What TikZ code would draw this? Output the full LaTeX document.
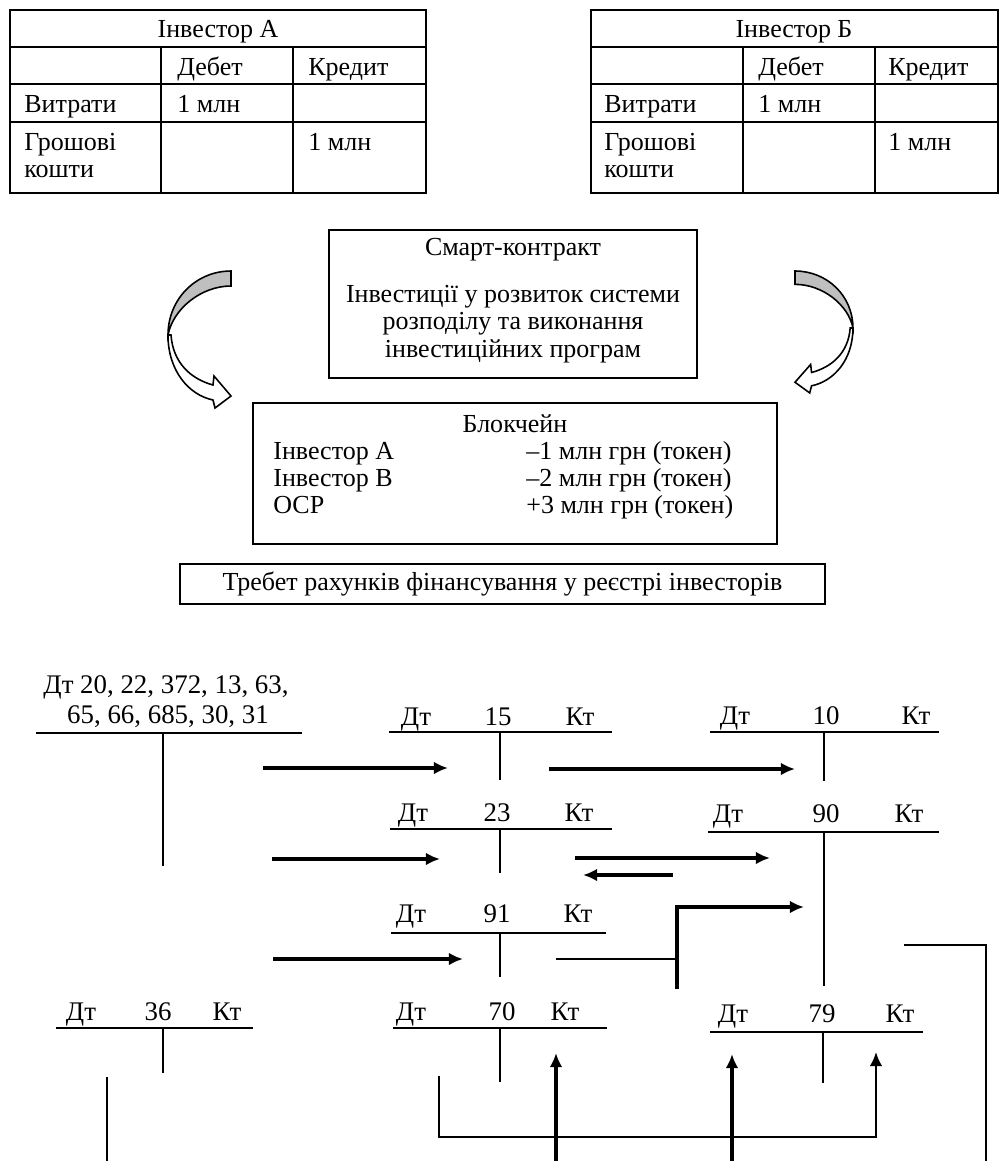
\documentclass[tikz,border=0pt]{standalone}
\usepackage{fontspec}
\setmainfont{Liberation Serif}
\usetikzlibrary{arrows.meta, positioning, calc}

\tikzset{
    curvearrow/.pic={
        \filldraw[fill=gray!50, line width=0.9pt] (0,0) .. controls (-35,0) and (-63,28) .. (-63,64)
            .. controls (-58,38) and (-30,15) .. (0,15) -- cycle;
        \filldraw[fill=white, line width=0.9pt] (-63,64) .. controls (-63,100) and (-42,124) .. (-18,129)
            -- (-16,137) -- (0,125) -- (-17,105) -- (-18,114)
            .. controls (-40,108) and (-58,92) .. (-60,64) -- cycle;
    }
}

\begin{document}
\begin{tikzpicture}[
    x=0.02cm, y=-0.02cm,
    >={Latex[length=8pt, width=7.2pt]},
    txt/.style={inner sep=0pt, font=\fontsize{14.8}{15.6}\selectfont},
    cell/.style={txt, anchor=base west},
    cellhead/.style={txt, anchor=base},
    grid/.style={line width=0.85pt},
    box/.style={draw, line width=1.2pt, inner sep=0pt},
    tlabel/.style={anchor=base, inner sep=0pt, font=\fontsize{15.3}{18}\selectfont},
    tline/.style={line width=1.6pt},
    tstem/.style={line width=1.2pt},
    flow/.style={->, line width=1.8pt},
    link/.style={line width=1.3pt}
]
\useasboundingbox (0,0) rectangle (999,1161);
% investor A
\draw[grid] (10,10) rectangle (426,193);
\draw[grid] (10,47) -- (426,47) (10,84) -- (426,84) (10,122) -- (426,122);
\draw[grid] (161,47) -- (161,193) (293,47) -- (293,193);
\node[cellhead] (TabAHead) at (218,37) {Інвестор А};
\node[cell] (TabADeb) at (177,75) {Дебет};
\node[cell] (TabACred) at (308,75) {Кредит};
\node[cell] (TabARow1) at (24,112) {Витрати};
\node[cell] (TabAVal1) at (177,112) {1 млн};
\node[cell] (TabARow2) at (24,150) {Грошові};
\node[cell] (TabARow2b) at (24,177) {кошти};
\node[cell] (TabAVal2) at (308,150) {1 млн};
% investor B
\draw[grid] (591,10) rectangle (998,193);
\draw[grid] (591,47) -- (998,47) (591,84) -- (998,84) (591,122) -- (998,122);
\draw[grid] (743,47) -- (743,193) (875,47) -- (875,193);
\node[cellhead] (TabBHead) at (794,37) {Інвестор Б};
\node[cell] (TabBDeb) at (758,75) {Дебет};
\node[cell] (TabBCred) at (888,75) {Кредит};
\node[cell] (TabBRow1) at (604,112) {Витрати};
\node[cell] (TabBVal1) at (758,112) {1 млн};
\node[cell] (TabBRow2) at (604,150) {Грошові};
\node[cell] (TabBRow2b) at (604,177) {кошти};
\node[cell] (TabBVal2) at (888,150) {1 млн};
% smart contract and blockchain
\node[box, minimum width=7.36cm, minimum height=2.96cm] (Smart) at (513,304) {};
\node[txt, align=center, anchor=north] (SmartTxt) at (513,238) {Смарт-контракт\\[11pt]Інвестиції у розвиток системи\\розподілу та виконання\\інвестиційних програм};
\node[box, minimum width=10.48cm, minimum height=2.82cm] (Chain) at (515,473.5) {};
\node[cellhead] (ChainHead) at (515,432) {Блокчейн};
\node[cell] (ChainA) at (273,459) {Інвестор А};
\node[cell] (ChainAVal) at (526,459) {–1 млн грн (токен)};
\node[cell] (ChainB) at (273,486) {Інвестор В};
\node[cell] (ChainBVal) at (526,486) {–2 млн грн (токен)};
\node[cell] (ChainC) at (273,513) {ОСР};
\node[cell] (ChainCVal) at (526,513) {+3 млн грн (токен)};
\node[box, line width=0.9pt, minimum width=12.9cm, minimum height=0.8cm, font=\fontsize{14.8}{15.6}\selectfont] (Req) at (502.5,584) {Требет рахунків фінансування у реєстрі інвесторів};
\pic (LeftArc) at (231,271) {curvearrow};
\pic[xscale=-0.92, yscale=0.89] (RightArc) at (795,271) {curvearrow};
% T-accounts
\node[tlabel] (Big1) at (166,693) {Дт 20, 22, 372, 13, 63,};
\node[tlabel] (Big2) at (168,723) {65, 66, 685, 30, 31};
\draw[tline] (36,733) -- (302,733);
\draw[tstem] (163,733) -- (163,866);
\node[tlabel] (D15) at (416,725) {Дт};
\node[tlabel] (N15) at (498,725) {15};
\node[tlabel] (K15) at (580,725) {Кт};
\draw[tline] (389,732) -- (612,732);
\draw[tstem] (500,732) -- (500,780);
\node[tlabel] (D10) at (735,724) {Дт};
\node[tlabel] (N10) at (826,724) {10};
\node[tlabel] (K10) at (916,724) {Кт};
\draw[tline] (710,732) -- (939,732);
\draw[tstem] (824,732) -- (824,781);
\node[tlabel] (D23) at (413,821) {Дт};
\node[tlabel] (N23) at (497,821) {23};
\node[tlabel] (K23) at (579,821) {Кт};
\draw[tline] (390,829) -- (612,829);
\draw[tstem] (500,829) -- (500,873);
\node[tlabel] (D90) at (728,822) {Дт};
\node[tlabel] (N90) at (826,822) {90};
\node[tlabel] (K90) at (909,822) {Кт};
\draw[tline] (708,832) -- (939,832);
\draw[tstem] (824,832) -- (824,986);
\node[tlabel] (D91) at (411,922) {Дт};
\node[tlabel] (N91) at (497,922) {91};
\node[tlabel] (K91) at (578,922) {Кт};
\draw[tline] (391,933) -- (606,933);
\draw[tstem] (500,933) -- (500,977);
\node[tlabel] (D36) at (81,1020) {Дт};
\node[tlabel] (N36) at (158,1020) {36};
\node[tlabel] (K36) at (227,1020) {Кт};
\draw[tline] (56,1028) -- (253,1028);
\draw[tstem] (163,1028) -- (163,1073);
\node[tlabel] (D70) at (411,1020) {Дт};
\node[tlabel] (N70) at (502,1020) {70};
\node[tlabel] (K70) at (565,1020) {Кт};
\draw[tline] (393,1028) -- (607,1028);
\draw[tstem] (500,1028) -- (500,1082);
\node[tlabel] (D79) at (733,1022) {Дт};
\node[tlabel] (N79) at (822,1022) {79};
\node[tlabel] (K79) at (900,1022) {Кт};
\draw[tline] (710,1032) -- (923,1032);
\draw[tstem] (823,1032) -- (823,1083);
% flows between accounts
\coordinate (BigTo15) at (263,768);   \coordinate (In15) at (448,768);
\coordinate (Out15) at (549,769);     \coordinate (In10) at (795,769);
\coordinate (BigTo23) at (272,859);   \coordinate (In23) at (440,859);
\coordinate (Out23) at (575,858);     \coordinate (In90) at (770,858);
\coordinate (Out90) at (673,875);     \coordinate (Back23) at (583,875);
\coordinate (BigTo91) at (273,959);   \coordinate (In91) at (463,959);
\coordinate (Out91) at (556,959);     \coordinate (Join91) at (677,959);
\coordinate (Low91) at (677,989);     \coordinate (Up91) at (677,907);
\coordinate (In90b) at (804,907);
\coordinate (Out90b) at (904,945);    \coordinate (Corner90) at (986,945);
\coordinate (Edge90) at (986,1161);
\coordinate (Out36) at (107,1077);    \coordinate (Edge36) at (107,1161);
\coordinate (Out70) at (439,1076);    \coordinate (Low70) at (439,1137);
\coordinate (Low79) at (876,1137);    \coordinate (In79K) at (876,1052);
\coordinate (Edge70) at (556,1161);   \coordinate (In70K) at (556,1053);
\coordinate (Edge79) at (732,1161);   \coordinate (In79D) at (732,1054);
\draw[flow] (BigTo15) -- (In15);
\draw[flow] (Out15) -- (In10);
\draw[flow] (BigTo23) -- (In23);
\draw[flow] (Out23) -- (In90);
\draw[flow] (Out90) -- (Back23);
\draw[flow] (BigTo91) -- (In91);
\draw[link] (Out91) -- (Join91);
\draw[flow] (Low91) -- (Up91) -- (In90b);
\draw[link] (Out90b) -- (Corner90) -- (Edge90);
\draw[link] (Out36) -- (Edge36);
\draw[link, ->] (Out70) -- (Low70) -- (Low79) -- (In79K);
\draw[flow] (Edge70) -- (In70K);
\draw[flow] (Edge79) -- (In79D);
\end{tikzpicture}
\end{document}
